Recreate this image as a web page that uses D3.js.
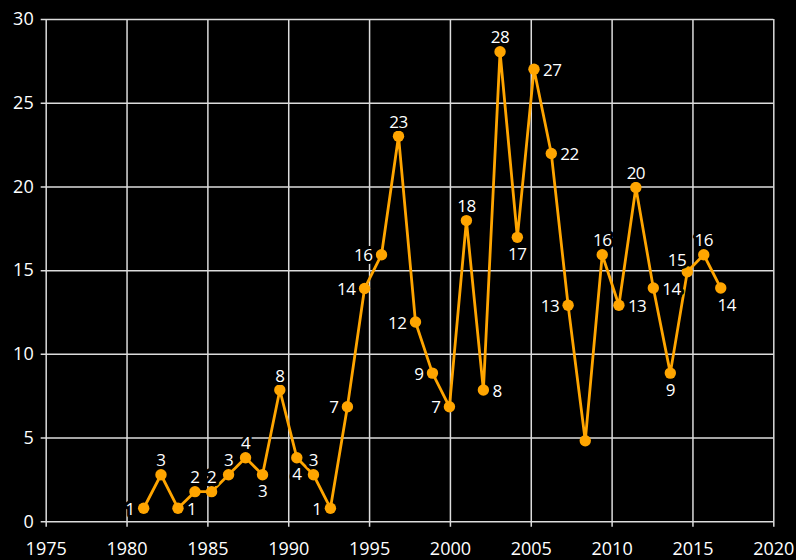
<!DOCTYPE html>
<html>
<head>
<meta charset="utf-8">
<script src="https://cdn.jsdelivr.net/npm/d3@7"></script>
<style>
  body { margin: 0; background: #000; }
  svg { display: block; font-family: "Open Sans", sans-serif; }
</style>
</head>
<body>
<script>
// points (x in fractional years)
const years = [
  1981.06, 1982.13, 1983.18, 1984.23, 1985.26, 1986.31, 1987.36, 1988.41, 1989.48,
  1990.53, 1991.56, 1992.61, 1993.66, 1994.72, 1995.77, 1996.82, 1997.87, 1998.92,
  1999.97, 2001.02, 2002.07, 2003.10, 2004.17, 2005.20, 2006.27, 2007.31, 2008.37,
  2009.42, 2010.45, 2011.50, 2012.58, 2013.63, 2014.68, 2015.70, 2016.75
];
const values = [
  0.78, 2.78, 0.78, 1.77, 1.77, 2.78, 3.80, 2.78, 7.84,
  3.80, 2.78, 0.78, 6.84, 13.90, 15.92, 23.00, 11.90, 8.85,
  6.84, 17.96, 7.84, 28.04, 16.96, 27.00, 21.97, 12.90, 4.81,
  15.92, 12.90, 19.94, 13.93, 8.85, 14.90, 15.92, 13.93
];
// where each value label sits relative to its point
const labelSide = [
  "left", "top", "right", "top", "top", "top", "top", "bottom", "top",
  "bottom", "top", "left", "left", "left", "left", "top", "left", "left",
  "left", "top", "right", "top", "bottom", "right", "right", "left", "none",
  "top", "right", "top", "right", "bottom", "topleft", "top", "bottomright"
];
const xTicks = [1975, 1980, 1985, 1990, 1995, 2000, 2005, 2010, 2015, 2020];
const yTicks = [0, 5, 10, 15, 20, 25, 30];

const W = 796, H = 560;
const margin = {top: 19, right: 22.7, bottom: 38.7, left: 45.7};

const svg = d3.select("body").append("svg")
  .attr("width", W)
  .attr("height", H);

svg.append("rect").attr("width", W).attr("height", H).attr("fill", "#000");

const x = d3.scaleLinear().domain([1975, 2020]).range([margin.left, W - margin.right]);
const y = d3.scaleLinear().domain([0, 30]).range([H - margin.bottom, margin.top]);

const gridColor = "#dcdcdc";
const plotH = y(0) - y(30);
const plotW = x(2020) - x(1975);

// x axis + vertical grid
const gx = svg.append("g")
  .attr("transform", `translate(0,${y(0)})`)
  .call(d3.axisBottom(x).tickValues(xTicks).tickFormat(d3.format("d")).tickSizeOuter(0));
gx.select(".domain").remove();
gx.selectAll(".tick line")
  .attr("y1", 5.5)
  .attr("y2", -plotH)
  .attr("stroke", gridColor)
  .attr("stroke-width", 1.5);
gx.selectAll(".tick text")
  .attr("y", 21)
  .attr("fill", "#fff")
  .attr("font-size", 18)
  .attr("font-family", "Open Sans, sans-serif");

// y axis + horizontal grid
const gy = svg.append("g")
  .attr("transform", `translate(${x(1975)},0)`)
  .call(d3.axisLeft(y).tickValues(yTicks).tickSizeOuter(0));
gy.select(".domain").remove();
gy.selectAll(".tick line")
  .attr("x1", -5)
  .attr("x2", plotW)
  .attr("stroke", gridColor)
  .attr("stroke-width", 1.5);
gy.selectAll(".tick text")
  .attr("x", -12)
  .attr("fill", "#fff")
  .attr("font-size", 18)
  .attr("font-family", "Open Sans, sans-serif");

const pts = years.map((yr, i) => ({yr: yr, v: values[i], side: labelSide[i]}));

const orange = "#ffa500";

const line = d3.line().x(d => x(d.yr)).y(d => y(d.v));

svg.append("path")
  .datum(pts)
  .attr("d", line)
  .attr("fill", "none")
  .attr("stroke", orange)
  .attr("stroke-width", 2.8)
  .attr("stroke-linejoin", "round");

svg.selectAll("circle.pt")
  .data(pts)
  .enter()
  .append("circle")
  .attr("class", "pt")
  .attr("cx", d => x(d.yr))
  .attr("cy", d => y(d.v))
  .attr("r", 5.7)
  .attr("fill", orange);

const offs = {
  top:         {dx: 0,   dy: -8.5, anchor: "middle"},
  bottom:      {dx: 0,   dy: 22.5, anchor: "middle"},
  left:        {dx: -9,  dy: 6.5,  anchor: "end"},
  right:       {dx: 9,   dy: 6.5,  anchor: "start"},
  topleft:     {dx: -1,  dy: -6,   anchor: "end"},
  bottomright: {dx: 6,   dy: 22.5, anchor: "middle"}
};

svg.selectAll("text.lbl")
  .data(pts.filter(d => d.side !== "none"))
  .enter()
  .append("text")
  .attr("class", "lbl")
  .attr("x", d => x(d.yr) + offs[d.side].dx)
  .attr("y", d => y(d.v) + offs[d.side].dy)
  .attr("text-anchor", d => offs[d.side].anchor)
  .attr("font-size", 17)
  .attr("letter-spacing", -0.5)
  .attr("fill", "#fff")
  .attr("stroke", "#000")
  .attr("stroke-width", 6)
  .attr("stroke-linejoin", "round")
  .attr("paint-order", "stroke")
  .text(d => Math.round(d.v));
</script>
</body>
</html>
